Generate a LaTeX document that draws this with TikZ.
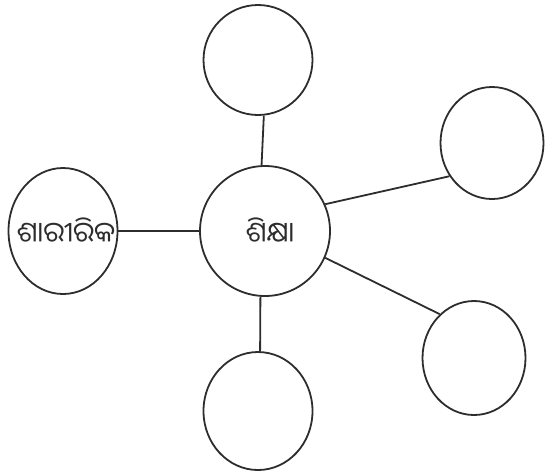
\documentclass[tikz,border=0pt]{standalone}
\usepackage{fontspec}
\newfontfamily\odiafont[Script=Oriya]{Noto Sans Oriya UI}
\usetikzlibrary{shapes.geometric}
\definecolor{inkgray}{RGB}{45,45,45}

\begin{document}
\begin{tikzpicture}[x=1pt,y=-1pt,
  bubble/.style={ellipse,draw=inkgray,line width=1.8pt,inner sep=0pt},
  spoke/.style={draw=inkgray,line width=1.8pt},
  odia/.style={font=\odiafont\fontsize{28}{32}\selectfont,text=inkgray}]
  \useasboundingbox (0,0) rectangle (548,475);
  % circles
  \node[bubble,minimum width=130,minimum height=130] (shiksha) at (265,231) {};
  \node[bubble,minimum width=109,minimum height=110] (top) at (258,60) {};
  \node[bubble,minimum width=103,minimum height=112] (righttop) at (492,143) {};
  \node[bubble,minimum width=109,minimum height=126] (sharirika) at (63,231) {};
  \node[bubble,minimum width=103,minimum height=114] (rightbottom) at (474,358) {};
  \node[bubble,minimum width=109,minimum height=118] (bottom) at (258,411) {};
  % spokes
  \draw[spoke] (shiksha.93) -- (top.276);
  \draw[spoke] (shiksha.24) -- (righttop.218);
  \draw[spoke] (shiksha.180) -- (sharirika.0);
  \draw[spoke] (shiksha.336) -- (rightbottom.128);
  \draw[spoke] (shiksha.266) -- (bottom.88);
  % labels
  \node[odia] (shikshatext) at ([xshift=5pt]shiksha.center) {ଶିକ୍ଷା};
  \node[odia] (sharirikatext) at ([xshift=3pt]sharirika.center) {ଶାରୀରିକ};
\end{tikzpicture}
\end{document}
